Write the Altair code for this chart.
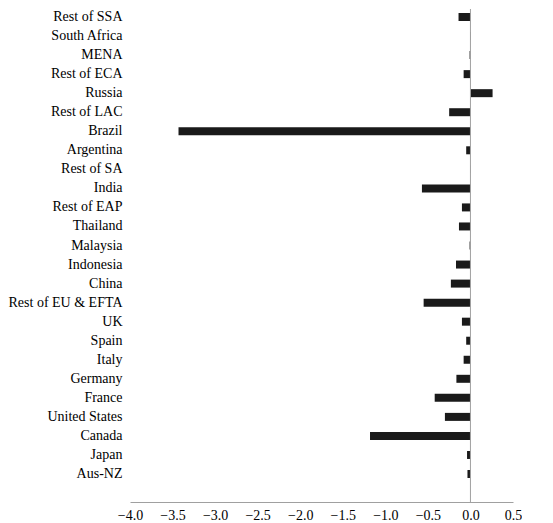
import altair as alt
import pandas as pd

regions = ["Rest of SSA", "South Africa", "MENA", "Rest of ECA", "Russia",
           "Rest of LAC", "Brazil", "Argentina", "Rest of SA", "India",
           "Rest of EAP", "Thailand", "Malaysia", "Indonesia", "China",
           "Rest of EU & EFTA", "UK", "Spain", "Italy", "Germany", "France",
           "United States", "Canada", "Japan", "Aus-NZ"]
values = [-0.14, -0.005, -0.01, -0.08, 0.26,
          -0.25, -3.43, -0.05, -0.003, -0.57,
          -0.10, -0.135, -0.01, -0.17, -0.23,
          -0.55, -0.10, -0.05, -0.08, -0.165, -0.42,
          -0.30, -1.18, -0.04, -0.035]
x_ticks = [-4.0, -3.5, -3.0, -2.5, -2.0, -1.5, -1.0, -0.5, 0.0, 0.5]

df = pd.DataFrame({"region": regions, "value": values})
zero = pd.DataFrame({"value": [0.0]})

FONT = "Liberation Serif"

x_scale = alt.Scale(domain=[-4.0, 0.5], nice=False, zero=False)
x_axis = alt.Axis(values=x_ticks, format=".1f", title=None, grid=False,
                  ticks=False, domainColor="#a0a0a0", labelPadding=6,
                  labelFlush=False, labelFont=FONT, labelFontSize=14,
                  labelColor="#000")

bars = alt.Chart(df).mark_bar(color="#1a1a1a").encode(
    x=alt.X("value:Q", scale=x_scale, axis=x_axis),
    y=alt.Y("region:N", sort=regions,
            scale=alt.Scale(paddingInner=0.58, paddingOuter=0.735, align=0.143),
            axis=alt.Axis(title=None, domain=False, ticks=False, grid=False,
                          labelPadding=8, labelLimit=300, labelFont=FONT,
                          labelFontSize=14, labelColor="#000")),
)

rule = alt.Chart(zero).mark_rule(color="#a0a0a0", strokeWidth=1).encode(
    x=alt.X("value:Q", scale=x_scale, axis=x_axis)
)

chart = alt.layer(bars, rule).properties(
    width=383, height=493,
    padding={"left": 0, "top": 0, "right": 0, "bottom": 0}
).configure_view(stroke=None).configure_axis(
    labelFont=FONT, labelFontSize=14, labelColor="#000"
)

chart.save("out.html", embed_options={"renderer": "svg", "actions": False})
